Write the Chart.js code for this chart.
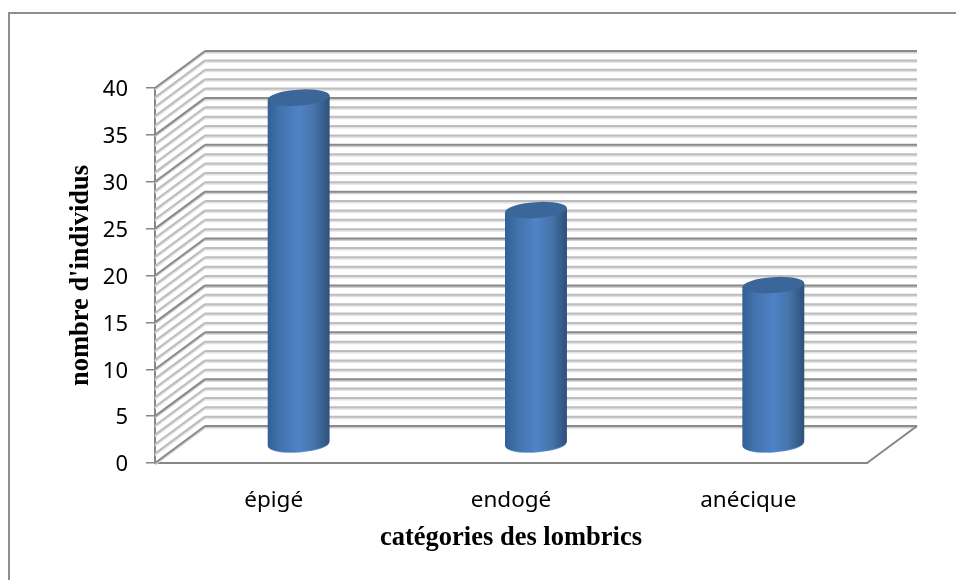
<!DOCTYPE html>
<html>
<head>
<meta charset="utf-8">
<style>
  html, body { margin: 0; padding: 0; background: #fff; }
  canvas { display: block; }
</style>
<script src="https://cdn.jsdelivr.net/npm/chart.js@4/dist/chart.umd.js"></script>
</head>
<body>
<canvas id="chart" width="956" height="580"></canvas>
<script>
const categories = ['épigé', 'endogé', 'anécique'];
const individuals = [37, 25, 17];
const yMax = 40;
const yMajorStep = 5;
const yMinorStep = 1;

// fake 3D box depth, the wall sits up and to the right of the axes
const DEPTH_X = 50;
const DEPTH_Y = -37;

function gridLine(ctx, x1, y1, x2, y2, major) {
  // soft shadow under each line, like the office 3D walls
  ctx.lineWidth = 2;
  ctx.strokeStyle = major ? '#d0d0d0' : '#e2e2e2';
  ctx.beginPath();
  ctx.moveTo(x1, y1 + 1.5);
  ctx.lineTo(x2, y2 + 1.5);
  ctx.stroke();
  ctx.strokeStyle = major ? '#8a8a8a' : '#bdbdbd';
  ctx.beginPath();
  ctx.moveTo(x1, y1);
  ctx.lineTo(x2, y2);
  ctx.stroke();
}

const box3d = {
  id: 'box3d',
  beforeDraw(chart) {
    const ctx = chart.ctx;
    ctx.save();
    ctx.strokeStyle = '#8e8e8e';
    ctx.lineWidth = 2;
    ctx.beginPath();
    ctx.moveTo(9, 580);
    ctx.lineTo(9, 13);
    ctx.lineTo(956, 13);
    ctx.stroke();
    ctx.restore();
  },
  beforeDatasetsDraw(chart) {
    const { ctx, chartArea, scales } = chart;
    const left = chartArea.left;
    const right = chartArea.right;
    ctx.save();
    for (let v = 0; v <= yMax; v += yMinorStep) {
      const y = scales.y.getPixelForValue(v);
      const major = v % yMajorStep === 0;
      gridLine(ctx, left, y, left + DEPTH_X, y + DEPTH_Y, major);
      gridLine(ctx, left + DEPTH_X, y + DEPTH_Y, right + DEPTH_X, y + DEPTH_Y, major);
    }
    // right edge of the floor
    const y0 = scales.y.getPixelForValue(0);
    ctx.strokeStyle = '#868686';
    ctx.lineWidth = 2;
    ctx.beginPath();
    ctx.moveTo(right, y0);
    ctx.lineTo(right + DEPTH_X, y0 + DEPTH_Y);
    ctx.stroke();
    ctx.restore();
  },
  beforeDatasetDraw(chart, args) {
    const ctx = chart.ctx;
    args.meta.data.forEach(bar => {
      const cx = bar.x + DEPTH_X / 2;
      const top = bar.y + DEPTH_Y / 2;
      const base = bar.base + DEPTH_Y / 2;
      const rx = bar.width / 2;
      const ry = 8;
      const tilt = -0.07;
      const dy = Math.sin(tilt) * rx;

      const grad = ctx.createLinearGradient(cx - rx, 0, cx + rx, 0);
      grad.addColorStop(0, '#315f96');
      grad.addColorStop(0.2, '#4373ad');
      grad.addColorStop(0.5, '#4f83c6');
      grad.addColorStop(0.75, '#4674ab');
      grad.addColorStop(1, '#2e5079');

      ctx.save();
      // light rim under the base
      ctx.fillStyle = '#5b93d6';
      ctx.beginPath();
      ctx.ellipse(cx, base + 0.8, rx - 0.5, ry, tilt, 0, Math.PI);
      ctx.fill();
      // body
      ctx.fillStyle = grad;
      ctx.beginPath();
      ctx.moveTo(cx - rx, top - dy);
      ctx.lineTo(cx - rx, base - dy);
      ctx.ellipse(cx, base, rx, ry, tilt, Math.PI, 0, true);
      ctx.lineTo(cx + rx, top + dy);
      ctx.closePath();
      ctx.fill();
      // top cap
      ctx.fillStyle = '#3b6699';
      ctx.beginPath();
      ctx.ellipse(cx, top, rx, ry, tilt, 0, Math.PI * 2);
      ctx.fill();
      ctx.restore();
    });
    return false; // native flat bar replaced by the cylinder
  }
};

new Chart(document.getElementById('chart'), {
  type: 'bar',
  data: {
    labels: categories,
    datasets: [{
      label: "nombre d'individus",
      data: individuals,
      backgroundColor: '#4f81bd',
      categoryPercentage: 1,
      barPercentage: 0.261
    }]
  },
  plugins: [box3d],
  options: {
    responsive: false,
    animation: false,
    events: [],
    layout: { padding: { left: 65, right: 89, top: 88, bottom: 26 } },
    plugins: { legend: { display: false }, tooltip: { enabled: false } },
    scales: {
      x: {
        afterFit(scale) { scale.height = 91; },
        grid: { drawOnChartArea: false, drawTicks: false },
        border: { color: '#868686', width: 2 },
        ticks: {
          color: '#000',
          padding: 24,
          maxRotation: 0,
          font: { family: 'Noto Sans', size: 22.5 }
        },
        title: {
          display: true,
          text: 'catégories des lombrics',
          color: '#000',
          padding: 0,
          font: { family: 'Liberation Serif', size: 26.5, weight: 'bold' }
        }
      },
      y: {
        min: 0,
        max: yMax,
        afterFit(scale) { scale.width = 90; },
        grid: { drawOnChartArea: false, tickLength: 9, color: '#868686', lineWidth: 1.5 },
        border: { color: '#868686', width: 2 },
        ticks: {
          stepSize: yMajorStep,
          color: '#000',
          padding: 18,
          labelOffset: 2,
          font: { family: 'Noto Sans', size: 22 }
        },
        title: {
          display: true,
          text: "nombre d'individus",
          color: '#000',
          padding: 0,
          font: { family: 'Liberation Serif', size: 26.5, weight: 'bold' }
        }
      }
    }
  }
});
</script>
</body>
</html>
